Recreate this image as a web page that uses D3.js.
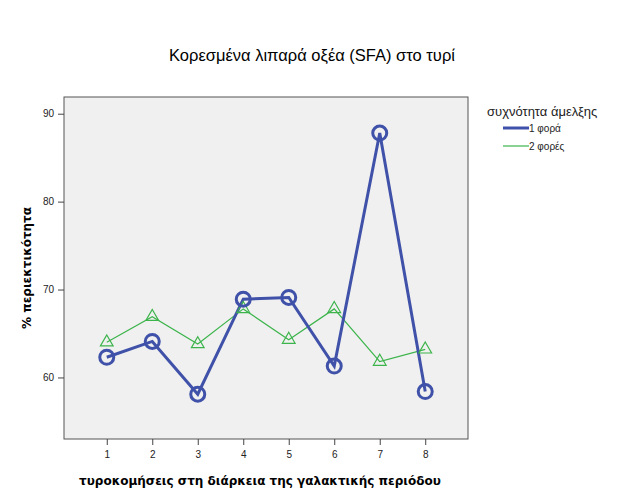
<!DOCTYPE html>
<html>
<head>
<meta charset="utf-8">
<script src="https://cdn.jsdelivr.net/npm/d3@7.9.0/dist/d3.min.js"></script>
<style>
  body { margin: 0; background: #fff; }
  svg { display: block; }
</style>
</head>
<body>
<div id="chart"></div>
<script>
const periods = [1, 2, 3, 4, 5, 6, 7, 8];
const once = [62.3, 64.1, 58.1, 68.9, 69.1, 61.3, 87.8, 58.4];
const twice = [64.0, 66.9, 63.8, 67.8, 64.3, 67.8, 61.8, 63.2];
const yTicks = [60, 70, 80, 90];
const seriesNames = ['1 φορά', '2 φορές'];

const width = 625;
const height = 500;
const plot = { left: 64, top: 97, right: 468, bottom: 439 };

const svg = d3.select('#chart')
  .append('svg')
  .attr('width', width)
  .attr('height', height);

const x = d3.scaleLinear().domain([0.06, 8.94]).range([plot.left, plot.right]);
const y = d3.scaleLinear().domain([53.0, 91.9]).range([plot.bottom, plot.top]);

// plot background
svg.append('rect')
  .attr('x', plot.left)
  .attr('y', plot.top)
  .attr('width', plot.right - plot.left)
  .attr('height', plot.bottom - plot.top)
  .attr('fill', '#f0f0f0')
  .attr('stroke', '#555')
  .attr('stroke-width', 1);

// axes
const xAxis = svg.append('g')
  .attr('transform', `translate(0, ${plot.bottom})`)
  .call(d3.axisBottom(x).tickValues(periods).tickSize(6).tickPadding(6).tickFormat(d3.format('d')));
const yAxis = svg.append('g')
  .attr('transform', `translate(${plot.left}, 0)`)
  .call(d3.axisLeft(y).tickValues(yTicks).tickSize(6).tickPadding(4));

[xAxis, yAxis].forEach((g) => {
  g.select('.domain').remove();
  g.selectAll('line').attr('stroke', '#444');
  g.selectAll('text')
    .attr('font-family', 'Liberation Sans, Arial, sans-serif')
    .attr('font-size', 10)
    .attr('fill', '#222');
});

// lines
const line = d3.line().x((d, i) => x(periods[i])).y((d) => y(d));

svg.append('path')
  .datum(twice)
  .attr('d', line)
  .attr('fill', 'none')
  .attr('stroke', '#3cb44b')
  .attr('stroke-width', 1.2);

svg.append('path')
  .datum(once)
  .attr('d', line)
  .attr('fill', 'none')
  .attr('stroke', '#3f51a8')
  .attr('stroke-width', 3);

// markers
const tri = d3.symbol().type(d3.symbolTriangle).size(70);
svg.append('g')
  .selectAll('path')
  .data(twice)
  .join('path')
  .attr('d', tri)
  .attr('transform', (d, i) => `translate(${x(periods[i])}, ${y(d)})`)
  .attr('fill', 'none')
  .attr('stroke', '#3cb44b')
  .attr('stroke-width', 1.2);

svg.append('g')
  .selectAll('circle')
  .data(once)
  .join('circle')
  .attr('cx', (d, i) => x(periods[i]))
  .attr('cy', (d) => y(d))
  .attr('r', 7)
  .attr('fill', 'none')
  .attr('stroke', '#3f51a8')
  .attr('stroke-width', 3);

// title
svg.append('text')
  .attr('x', 312)
  .attr('y', 61)
  .attr('text-anchor', 'middle')
  .attr('font-family', 'Liberation Sans, Arial, sans-serif')
  .attr('font-size', 16.5)
  .attr('fill', '#000')
  .text('Κορεσμένα λιπαρά οξέα (SFA) στο τυρί');

// axis titles
svg.append('text')
  .attr('x', 260)
  .attr('y', 485)
  .attr('text-anchor', 'middle')
  .attr('font-family', 'DejaVu Sans, sans-serif')
  .attr('font-weight', 'bold')
  .attr('font-size', 12)
  .attr('fill', '#000')
  .text('τυροκομήσεις στη διάρκεια της γαλακτικής περιόδου');

svg.append('text')
  .attr('transform', 'translate(31, 268) rotate(-90)')
  .attr('text-anchor', 'middle')
  .attr('font-family', 'DejaVu Sans, sans-serif')
  .attr('font-weight', 'bold')
  .attr('font-size', 12)
  .attr('fill', '#000')
  .text('% περιεκτικότητα');

// legend
const legend = svg.append('g').attr('font-family', 'Liberation Sans, Arial, sans-serif');
legend.append('text')
  .attr('x', 487)
  .attr('y', 116)
  .attr('font-size', 13)
  .attr('fill', '#222')
  .text('συχνότητα άμελξης');

const legendColors = ['#3f51a8', '#3cb44b'];
const legendWidths = [3, 1.2];
seriesNames.forEach((name, i) => {
  const ly = 128 + i * 18;
  legend.append('line')
    .attr('x1', 503).attr('x2', 529)
    .attr('y1', ly).attr('y2', ly)
    .attr('stroke', legendColors[i])
    .attr('stroke-width', legendWidths[i]);
  legend.append('text')
    .attr('x', 529)
    .attr('y', ly + 4)
    .attr('font-size', 10)
    .attr('fill', '#222')
    .text(name);
});
</script>
</body>
</html>
